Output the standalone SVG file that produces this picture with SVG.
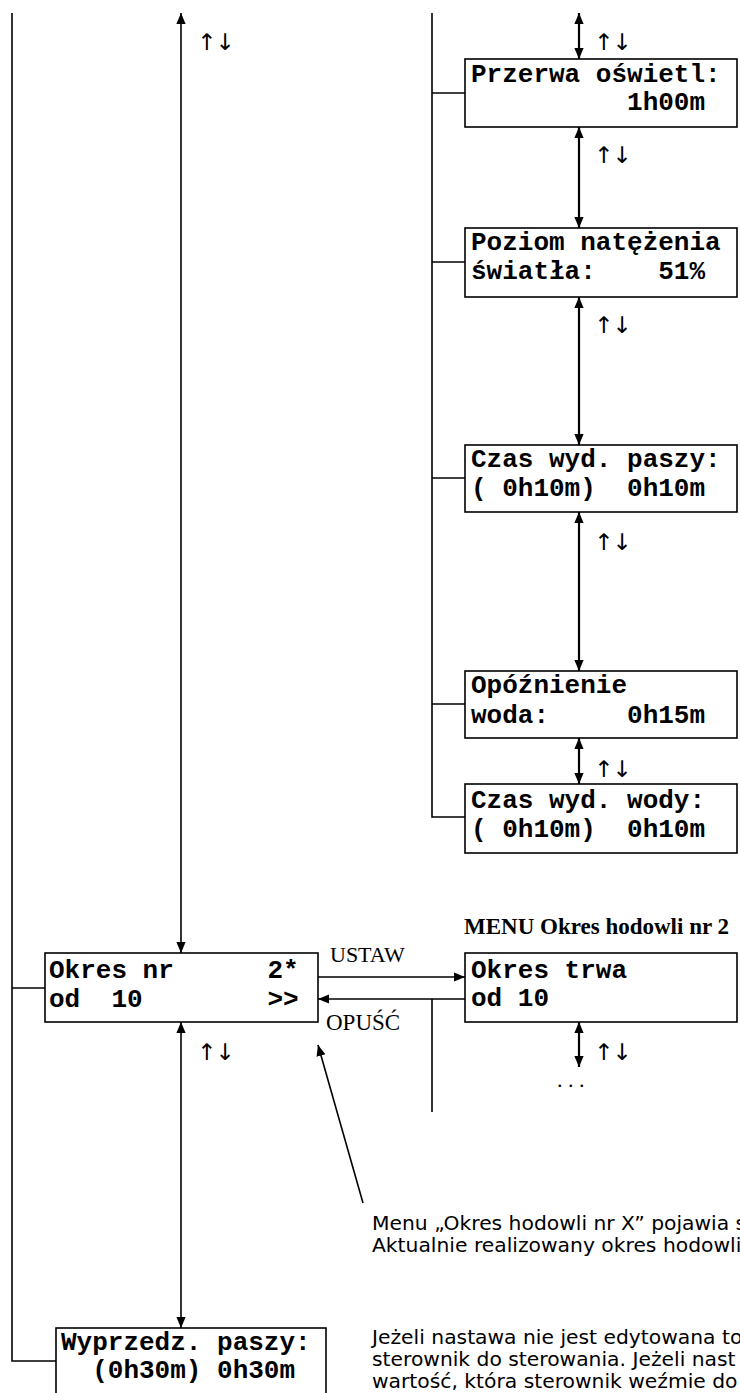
<svg xmlns="http://www.w3.org/2000/svg" width="740" height="1393" viewBox="0 0 740 1393">
<defs>
<style>
.box{fill:#fff;stroke:#000;stroke-width:1.6}
.mono{font-family:"Liberation Mono","Courier New",monospace;font-weight:bold;font-size:26px;fill:#000;white-space:pre}
.ln{stroke:#000;stroke-width:1.6;fill:none}
.ln2{stroke:#000;stroke-width:2.2;fill:none}
.ud{font-family:"DejaVu Sans",sans-serif;font-size:23px;fill:#000;letter-spacing:-1px}
.tim{font-family:"Liberation Serif","Times New Roman",serif;font-size:23px;fill:#000}
.note{font-family:"DejaVu Sans","Verdana",sans-serif;font-size:20.3px;fill:#000}
</style>
<marker id="ah" viewBox="0 0 10 10" refX="10" refY="5" markerWidth="11" markerHeight="11" markerUnits="userSpaceOnUse" orient="auto-start-reverse">
<path d="M0,0.8 L10,5 L0,9.2 z" fill="#000"/>
</marker>
</defs>

<g id="connectors">
<path class="ln" d="M12,13 V1361 H56"/>
<path class="ln" d="M12,988 H45"/>
<path class="ln" d="M432,13 V817 H465"/>
<path class="ln" d="M432,93 H465"/>
<path class="ln" d="M432,262 H465"/>
<path class="ln" d="M432,478 H465"/>
<path class="ln" d="M432,704 H465"/>
<line class="ln" x1="181" y1="13" x2="181" y2="953" marker-start="url(#ah)" marker-end="url(#ah)"/>
<line class="ln" x1="181" y1="1022" x2="181" y2="1328" marker-start="url(#ah)" marker-end="url(#ah)"/>
<line class="ln2" x1="579" y1="13" x2="579" y2="59" marker-start="url(#ah)" marker-end="url(#ah)"/>
<line class="ln2" x1="579" y1="127" x2="579" y2="228" marker-start="url(#ah)" marker-end="url(#ah)"/>
<line class="ln2" x1="579" y1="297" x2="579" y2="445" marker-start="url(#ah)" marker-end="url(#ah)"/>
<line class="ln2" x1="579" y1="512" x2="579" y2="671" marker-start="url(#ah)" marker-end="url(#ah)"/>
<line class="ln2" x1="579" y1="738" x2="579" y2="784" marker-start="url(#ah)" marker-end="url(#ah)"/>
<line class="ln2" x1="579" y1="1022" x2="579" y2="1067" marker-start="url(#ah)" marker-end="url(#ah)"/>
<line class="ln" x1="318" y1="977" x2="465" y2="977" marker-end="url(#ah)"/>
<line class="ln" x1="465" y1="999" x2="318" y2="999" marker-end="url(#ah)"/>
<line class="ln" x1="432" y1="999" x2="432" y2="1112"/>
<line class="ln" x1="363" y1="1203" x2="318" y2="1045" marker-end="url(#ah)"/>
</g>

<g id="labels">
<text class="ud" x="197" y="50">↑↓</text>
<text class="ud" x="594" y="50">↑↓</text>
<text class="ud" x="594" y="163">↑↓</text>
<text class="ud" x="594" y="333">↑↓</text>
<text class="ud" x="594" y="550">↑↓</text>
<text class="ud" x="594" y="777">↑↓</text>
<text class="ud" x="197" y="1060">↑↓</text>
<text class="ud" x="594" y="1060">↑↓</text>
<text class="tim" x="330" y="962" style="font-size:22px">USTAW</text>
<text class="tim" x="326" y="1030">OPUŚĆ</text>
<text class="tim" x="557" y="1087" style="font-size:22px;white-space:pre">. . .</text>
<text class="tim" x="464" y="934" style="font-weight:bold">MENU Okres hodowli nr 2</text>
</g>

<g id="node-przerwa">
<rect class="box" x="465" y="59" width="272" height="68"/>
<text class="mono" x="471" y="82">Przerwa oświetl:</text>
<text class="mono" x="471" y="110">          1h00m</text>
</g>
<g id="node-poziom">
<rect class="box" x="465" y="228" width="272" height="69"/>
<text class="mono" x="471" y="250">Poziom natężenia</text>
<text class="mono" x="471" y="279">światła:    51%</text>
</g>
<g id="node-czas-paszy">
<rect class="box" x="465" y="445" width="272" height="67"/>
<text class="mono" x="471" y="467">Czas wyd. paszy:</text>
<text class="mono" x="471" y="496">( 0h10m)  0h10m</text>
</g>
<g id="node-opoznienie">
<rect class="box" x="465" y="671" width="272" height="67"/>
<text class="mono" x="471" y="693">Opóźnienie</text>
<text class="mono" x="471" y="723">woda:     0h15m</text>
</g>
<g id="node-czas-wody">
<rect class="box" x="465" y="784" width="272" height="69"/>
<text class="mono" x="471" y="808">Czas wyd. wody:</text>
<text class="mono" x="471" y="837">( 0h10m)  0h10m</text>
</g>
<g id="node-okres-nr">
<rect class="box" x="45" y="953" width="273" height="69"/>
<text class="mono" x="49" y="978">Okres nr      2*</text>
<text class="mono" x="49" y="1007">od  10        &gt;&gt;</text>
</g>
<g id="node-okres-trwa">
<rect class="box" x="465" y="953" width="272" height="69"/>
<text class="mono" x="471" y="978">Okres trwa</text>
<text class="mono" x="471" y="1006">od 10</text>
</g>
<g id="node-wyprzedz">
<rect class="box" x="56" y="1328" width="270" height="80"/>
<text class="mono" x="61" y="1350">Wyprzedz. paszy:</text>
<text class="mono" x="61" y="1378">  (0h30m) 0h30m</text>
</g>

<g id="notes">
<text class="note" x="372" y="1230">Menu „Okres hodowli nr X” pojawia s</text>
<text class="note" x="372" y="1252">Aktualnie realizowany okres hodowli</text>
<text class="note" x="372" y="1344">Jeżeli nastawa nie jest edytowana to</text>
<text class="note" x="372" y="1366">sterownik do sterowania. Jeżeli nast</text>
<text class="note" x="372" y="1388">wartość, która sterownik weźmie do</text>
</g>
</svg>
